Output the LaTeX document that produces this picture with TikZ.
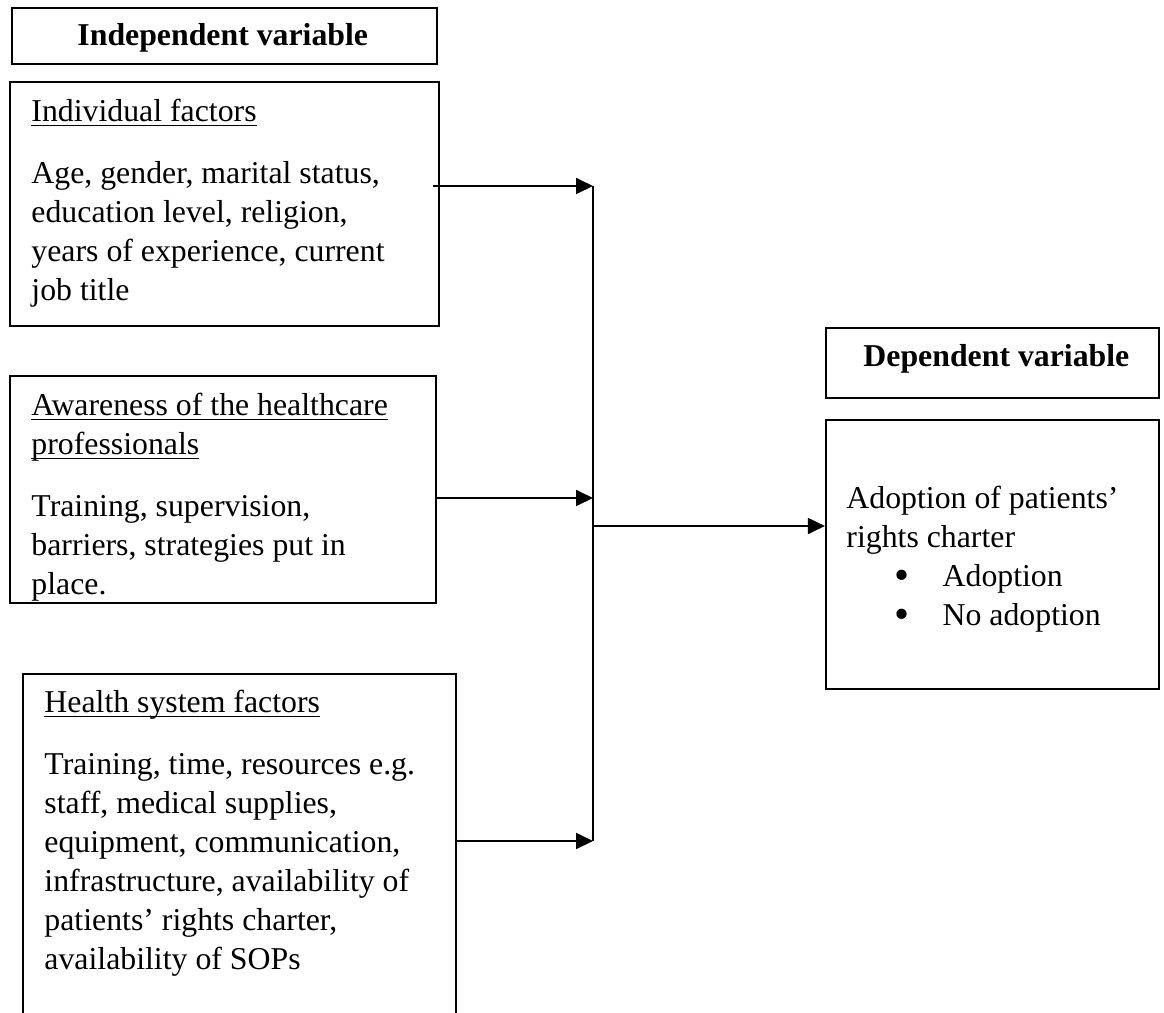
\documentclass[tikz,border=0pt]{standalone}
\usepackage{fontspec}
\setmainfont{Liberation Serif}
\usetikzlibrary{arrows.meta,fit,positioning}

\tikzset{
	box/.style={draw,line width=0.8pt,inner sep=0pt},
	txt/.style={anchor=north west,inner sep=0pt,align=left,font=\fontsize{12}{14.7}\selectfont},
	head/.style={anchor=base west,inner sep=0pt,font=\fontsize{12}{14.7}\selectfont\bfseries},
	link/.style={line width=0.8pt,-{Triangle[length=6.4pt,width=6pt]}},
	joint/.style={line width=0.45pt},
}
\newcommand{\ulhead}[1]{\underline{\smash{#1}}}
\newcommand{\firstline}{\rule{0pt}{10pt}}
\newcommand{\dotitem}[1]{\hspace*{20.8pt}\makebox[0pt]{\smash{\raisebox{-1.1pt}{\scalebox{1.35}{\textbullet}}}}\hspace*{15.5pt}#1}

\begin{document}
\begin{tikzpicture}[x=0.3774pt,y=-0.3774pt]
	\useasboundingbox (0,0) rectangle (1164,1012);
	\node[box,fit={(12,8) (437,64)}] (iv) {};
	\node[head] (ivt) at ([shift={(66,39)}]iv.north west) {Independent variable};
	\node[box,fit={(10,82) (439,326)}] (ind) {};
	\node[txt] (indt) at ([shift={(22,13.5)}]ind.north west) {\firstline\ulhead{Individual factors}\\[8.7pt]
		Age, gender, marital status,\\education level, religion,\\years of experience, current\\job title};
	\node[box,fit={(10,376) (436,603)}] (aw) {};
	\node[txt] (awt) at ([shift={(22,13.5)}]aw.north west) {\firstline\ulhead{Awareness of the healthcare}\\\ulhead{professionals}\\[8.7pt]
		Training, supervision,\\barriers, strategies put in\\place.};
	\node[box,fit={(23,674) (456,1030)}] (hs) {};
	\node[txt] (hst) at ([shift={(22,12.5)}]hs.north west) {\firstline\ulhead{Health system factors}\\[8.7pt]
		Training, time, resources e.g.\\staff, medical supplies,\\equipment, communication,\\infrastructure, availability of\\patients' rights charter,\\availability of SOPs};
	\node[box,fit={(826,328) (1159,398)}] (dv) {};
	\node[head] (dvt) at ([shift={(38,40)}]dv.north west) {Dependent variable};
	\node[box,fit={(826,420) (1159,689)}] (dep) {};
	\node[txt] (dept) at ([shift={(21,62.5)}]dep.north west) {\firstline Adoption of patients'\\rights charter\\
		\dotitem{Adoption}\\\dotitem{No adoption}};
	\coordinate (s1) at (433,186);
	\coordinate (j1) at (593,186);
	\coordinate (j2) at (593,498);
	\coordinate (jm) at (593,526);
	\coordinate (j3) at (593,841);
	\draw[joint] (j1) -- (j3);
	\draw[link] (s1) -- (j1);
	\draw[link] (aw.east |- j2) -- (j2);
	\draw[link] (hs.east |- j3) -- (j3);
	\draw[link] (jm) -- (dep.west |- jm);
\end{tikzpicture}
\end{document}
